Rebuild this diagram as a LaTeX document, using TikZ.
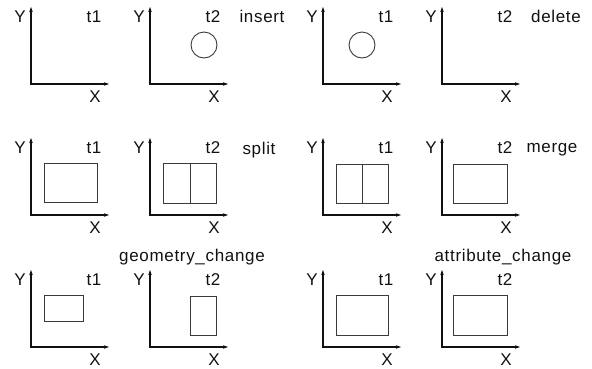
\documentclass[tikz,border=0pt]{standalone}
\usepackage{fontspec}
\setmainfont{Liberation Sans}[LetterSpace=4]
\usepackage{tikz}
\usetikzlibrary{arrows.meta}
\definecolor{ink}{HTML}{111111}
\definecolor{shape}{HTML}{3A3A3A}

\begin{document}
\begin{tikzpicture}[
  x=1pt, y=-1pt,
  every node/.style={font=\fontsize{17}{18}\selectfont, text=ink, inner sep=0pt},
  axis/.style={{Stealth[length=5pt,width=3.5pt]}-{Stealth[length=5pt,width=3.5pt]}, line width=1.1pt, draw=ink},
  obj/.style={draw=shape, line width=0.9pt},
  oplabel/.style={anchor=center}
]
\useasboundingbox (0,0) rectangle (592,368);

% axes, one frame per panel: name / axis x / axis bottom / time label
\foreach \n/\ax/\ab/\tl in {p1/31/84/t1, p2/150/84/t2, p3/323/84/t1, p4/442/84/t2,
                            p5/31/215/t1, p6/150/215/t2, p7/323/215/t1, p8/442/215/t2,
                            p9/31/347/t1, p10/150/347/t2, p11/323/347/t1, p12/442/347/t2}{
  \coordinate (\n-ytop) at (\ax,\ab-77);
  \coordinate (\n-xend) at (\ax+78,\ab);
  \draw[axis] (\n-ytop) |- (\n-xend);
  \node (\n-Y) at (\ax-11,\ab-67) {Y};
  \node (\n-t) at (\ax+63,\ab-67) {\tl};
  \node (\n-X) at (\ax+64,\ab+13) {X};
}

% operation names
\node[oplabel] (insert) at (262,16)  {insert};
\node[oplabel] (delete) at (556,16)  {delete};
\node[oplabel] (split)  at (259,150) {split};
\node[oplabel] (merge)  at (552,150) {merge};
\node[oplabel] (geom)   at (192,257) {geometry\_change};
\node[oplabel] (attr)   at (503,257) {attribute\_change};

% insert / delete
\draw[obj] (204,45) circle (13);
\draw[obj] (362,45) circle (13);

% split
\draw[obj] (44,163) rectangle (97,202);
\draw[obj] (163,163) rectangle (216,203);
\draw[obj] (190,163) -- (190,203);

% merge
\draw[obj] (336,164) rectangle (388,203);
\draw[obj] (362,164) -- (362,203);
\draw[obj] (453,164) rectangle (507,203);

% geometry_change
\draw[obj] (44,295) rectangle (83,321);
\draw[obj] (190,296) rectangle (216,335);

% attribute_change
\draw[obj] (336,295) rectangle (388,335);
\draw[obj] (453,295) rectangle (507,335);
\end{tikzpicture}
\end{document}
